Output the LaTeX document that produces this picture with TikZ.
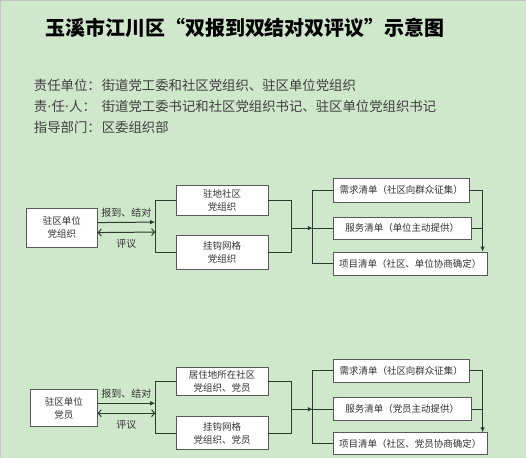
\documentclass[tikz,border=0pt]{standalone}
\usepackage{fontspec}
\setmainfont{Noto Sans CJK SC}
\newfontfamily\dotfont{DejaVu Sans}
\usepackage{tikz}
\usetikzlibrary{positioning,calc,arrows.meta}
\usepackage{xcolor}
\definecolor{pagebg}{HTML}{CFE7CB}
\definecolor{linecol}{HTML}{2E3A2E}

\begin{document}
\begin{tikzpicture}[
    x=1pt, y=-1pt,
    every node/.style={font=\fontsize{9.5}{13}\selectfont, text=black!80},
    box/.style={draw=black!65, line width=0.6pt, fill=white, align=center, inner sep=1pt},
    link/.style={draw=linecol, line width=1pt},
    arrow/.style={link, -{Latex[length=5pt,width=4.5pt]}},
    twoway/.style={link, {Straight Barb[length=3pt,width=7pt]}-{Straight Barb[length=3pt,width=7pt]}},
    tag/.style={font=\fontsize{10}{12}\selectfont},
    info/.style={font=\fontsize{13.4}{16}\selectfont, anchor=west, text=black!75}
]

% Page
\fill[pagebg] (0,0) rectangle (526,458);
\draw[gray!45, line width=1pt] (0,458) -- (0,0) -- (526,0);
\useasboundingbox (0,0) rectangle (526,458);

% Title
\node[font=\fontsize{20}{24}\selectfont\bfseries, text=black] (title) at (245,27) {玉溪市江川区“双报到双结对双评议”示意图};

% Responsibility lines
\node[info] (dutyk) at (30,85) {责任单位：};
\node[info] (dutyv) at (98,85) {街道党工委和社区党组织、驻区单位党组织};
\node[info] (headk) at (30,106) {责{\dotfont·}任{\dotfont·}人：};
\node[info] (headv) at (98,106) {街道党工委书记和社区党组织书记、驻区单位党组织书记};
\node[info] (guidek) at (30,127) {指导部门：};
\node[info] (guidev) at (98,127) {区委组织部};

% Panel 1: unit party organisation
\node[box, minimum width=71, minimum height=39] (unit1) at (61.5,227.5) {驻区单位\\党组织};
\node[box, minimum width=92, minimum height=30] (comm1) at (222,200) {驻地社区\\党组织};
\node[box, minimum width=92, minimum height=34] (grid1) at (222,252) {挂钩网格\\党组织};
\node[box, minimum width=137, minimum height=24] (need1) at (401.5,190) {需求清单（社区向群众征集）};
\node[box, minimum width=139, minimum height=22] (serv1) at (402.5,228) {服务清单（单位主动提供）};
\node[box, minimum width=155, minimum height=23] (proj1) at (410.5,263.5) {项目清单（社区、单位协商确定）};

\coordinate (split1) at (155,227);
\coordinate (merge1) at (292,228);
\coordinate (list1) at (313,228);
\coordinate (drop1) at (483,190);

\draw[arrow] ($(unit1.east)+(0,-5)$) -- ($(split1)+(0,-5)$) node[tag, midway, above=1pt] (report1) {报到、结对};
\draw[twoway] ($(unit1.east)+(0,5)$) -- ($(split1)+(0,5)$) node[tag, midway, below=3pt] (review1) {评议};
\draw[link] (comm1.west) -| (split1) |- (grid1.west);
\draw[link] (comm1.east) -| (merge1) |- (grid1.east);
\draw[arrow] (merge1) -- (list1);
\draw[link] (need1.west) -| (list1) |- (proj1.west);
\draw[link] (serv1.west) -- (list1);
\draw[arrow] (need1.east) -- (drop1) -- (drop1 |- proj1.north);
\draw[link] (serv1.east) -- (serv1.east -| drop1);

% Panel 2: unit party members
\node[box, minimum width=67, minimum height=37] (unit2) at (63.5,408.5) {驻区单位\\党员};
\node[box, minimum width=92, minimum height=29] (comm2) at (222,381.5) {居住地所在社区\\党组织、党员};
\node[box, minimum width=92, minimum height=33] (grid2) at (222,433.5) {挂钩网格\\党组织、党员};
\node[box, minimum width=137, minimum height=24] (need2) at (401.5,371) {需求清单（社区向群众征集）};
\node[box, minimum width=139, minimum height=23] (serv2) at (402.5,409.5) {服务清单（党员主动提供）};
\node[box, minimum width=155, minimum height=22] (proj2) at (410.5,444) {项目清单（社区、党员协商确定）};

\coordinate (split2) at (155,408.5);
\coordinate (merge2) at (292,409.5);
\coordinate (list2) at (313,409.5);
\coordinate (drop2) at (483,371);

\draw[arrow] ($(unit2.east)+(0,-5)$) -- ($(split2)+(0,-5)$) node[tag, midway, above=1pt] (report2) {报到、结对};
\draw[twoway] ($(unit2.east)+(0,5)$) -- ($(split2)+(0,5)$) node[tag, midway, below=3pt] (review2) {评议};
\draw[link] (comm2.west) -| (split2) |- (grid2.west);
\draw[link] (comm2.east) -| (merge2) |- (grid2.east);
\draw[arrow] (merge2) -- (list2);
\draw[link] (need2.west) -| (list2) |- (proj2.west);
\draw[link] (serv2.west) -- (list2);
\draw[arrow] (need2.east) -- (drop2) -- (drop2 |- proj2.north);
\draw[link] (serv2.east) -- (serv2.east -| drop2);

\end{tikzpicture}
\end{document}
